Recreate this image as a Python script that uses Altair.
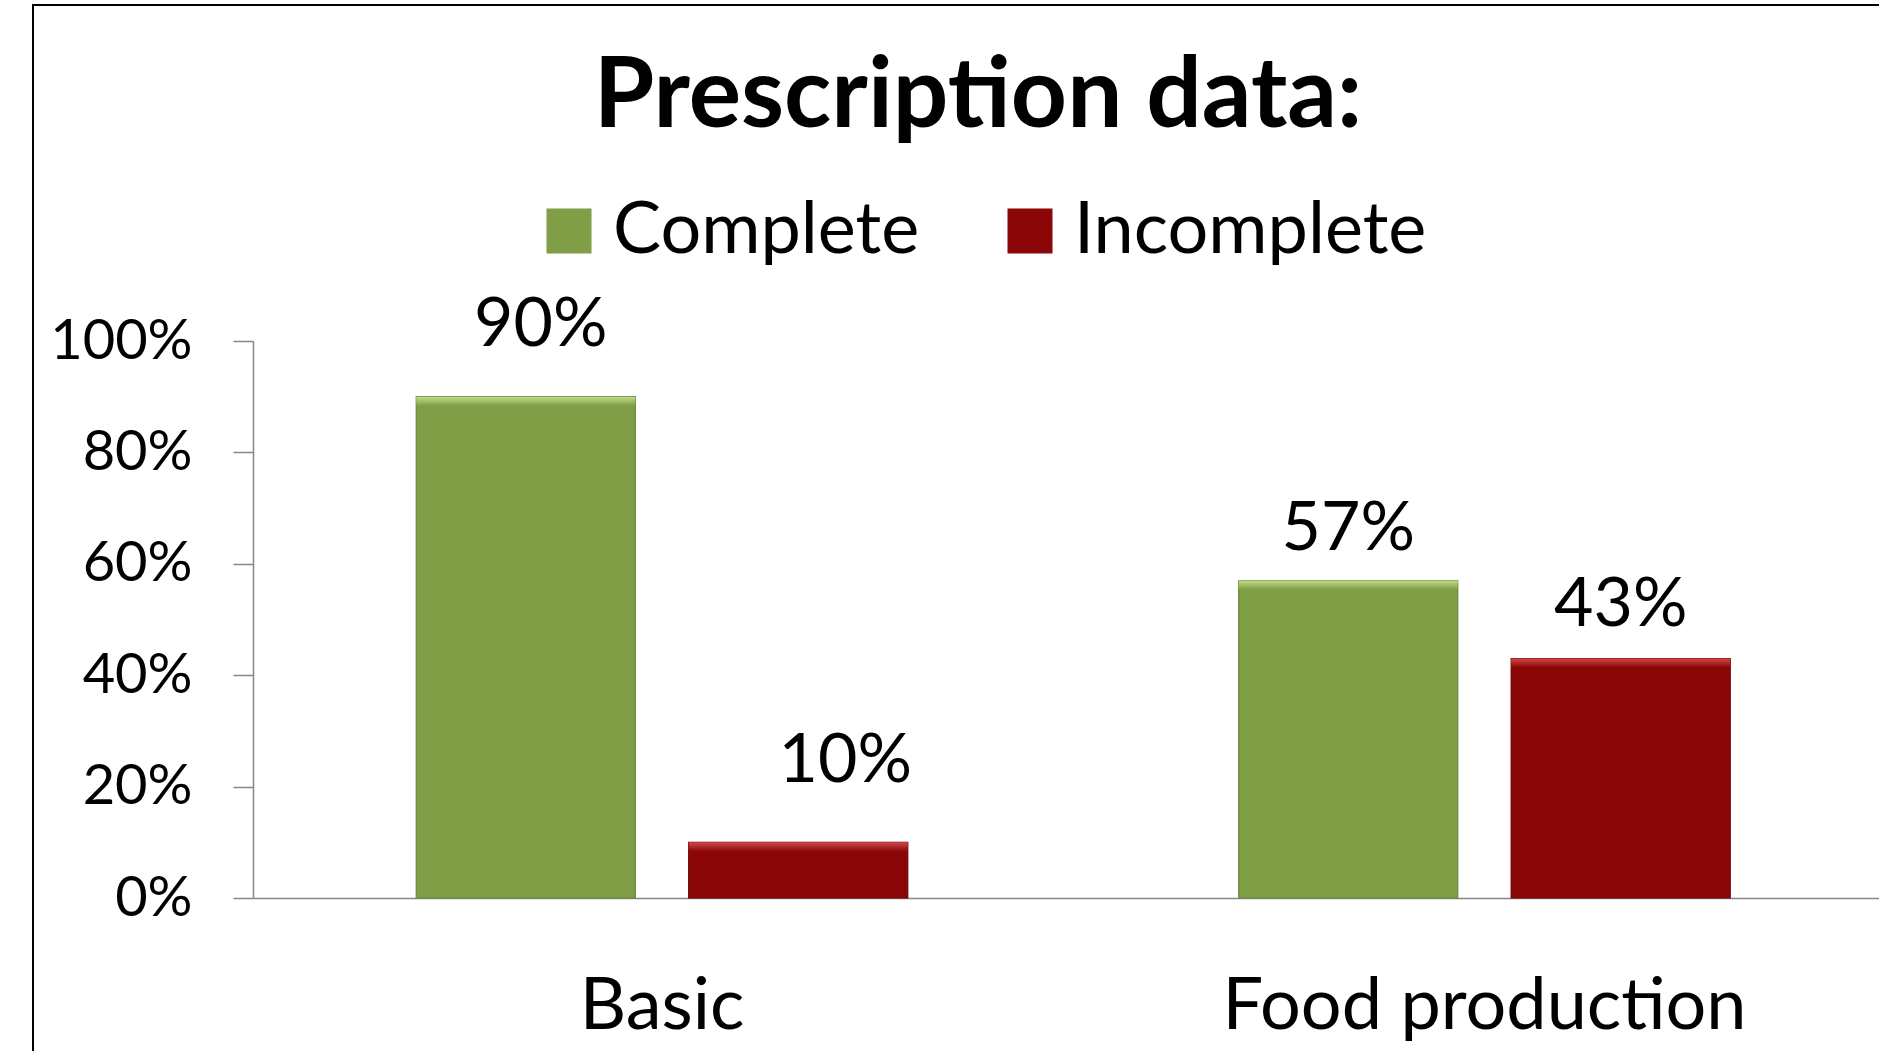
import altair as alt
import pandas as pd

# ---- data -------------------------------------------------------------
categories = ["Basic", "Food production"]
statuses = ["Complete", "Incomplete"]
complete_pct = [90, 57]
incomplete_pct = [10, 43]
y_tick_values = [0, 0.2, 0.4, 0.6, 0.8, 1.0]
chart_title = "Prescription data:"

rows = []
for cat, c_val, i_val in zip(categories, complete_pct, incomplete_pct):
    rows.append({"category": cat, "status": statuses[0], "share": c_val / 100, "label": f"{c_val}%"})
    rows.append({"category": cat, "status": statuses[1], "share": i_val / 100, "label": f"{i_val}%"})
df = pd.DataFrame(rows)

# ---- style ------------------------------------------------------------
FONT = "Lato"
GREEN, RED = "#7f9e45", "#8b0607"
GREEN_EDGE, RED_EDGE = "#6a8738", "#6e0204"
AXIS_GREY = "#868686"

# hand-placed nudges for the value labels (dx, dy in pixels)
label_nudge = {
    ("Basic", "Complete"): (15, -51),
    ("Basic", "Incomplete"): (47, -60),
    ("Food production", "Complete"): (0, -31),
    ("Food production", "Incomplete"): (0, -32),
}

x_enc = alt.X(
    "category:N",
    sort=categories,
    scale=alt.Scale(paddingInner=0.0406, paddingOuter=0.0088, align=1),
    axis=alt.Axis(
        title=None, ticks=False, labelAngle=0, labelFont=FONT, labelFontSize=72,
        labelColor="black", labelPadding=73, labelLimit=2000,
        domainColor=AXIS_GREY, domainWidth=1.5,
    ),
)
xo_enc = alt.XOffset(
    "status:N", sort=statuses, scale=alt.Scale(paddingInner=0.196, paddingOuter=0.546)
)
y_enc = alt.Y(
    "share:Q",
    scale=alt.Scale(domain=[0, 1]),
    axis=alt.Axis(
        values=y_tick_values, format=".0%", title=None, grid=False,
        tickSize=20, tickColor=AXIS_GREY, tickWidth=1.5, domainColor=AXIS_GREY,
        domainWidth=1.5, labelFont=FONT, labelFontSize=56, labelColor="black",
        labelPadding=41,
    ),
)

base = alt.Chart(df)

bars = base.mark_bar(strokeWidth=1.2).encode(
    x=x_enc,
    xOffset=xo_enc,
    y=y_enc,
    color=alt.Color(
        "status:N",
        sort=statuses,
        scale=alt.Scale(domain=statuses, range=[GREEN, RED]),
        legend=alt.Legend(
            orient="none", legendX=280, legendY=-146, direction="horizontal",
            title=None, symbolType="square", symbolSize=2025, symbolStrokeWidth=0,
            symbolOpacity=1, labelFont=FONT, labelFontSize=72, labelColor="black",
            labelOffset=8, labelLimit=2000, columnPadding=74, padding=0,
        ),
    ),
    stroke=alt.Stroke(
        "status:N", scale=alt.Scale(domain=statuses, range=[GREEN_EDGE, RED_EDGE]), legend=None
    ),
)

def top_bevel(status, light, dark):
    grad = alt.Gradient(
        gradient="linear",
        stops=[alt.GradientStop(color=light, offset=0), alt.GradientStop(color=dark, offset=1)],
        x1=0, x2=0, y1=0, y2=1,
    )
    return (
        base.transform_filter(alt.datum.status == status)
        .mark_bar(fill=grad, y2Offset=9)
        .encode(x=x_enc, xOffset=xo_enc, y=y_enc, y2=alt.Y2("share:Q"))
    )

bevels = top_bevel("Complete", "#c3dc8c", GREEN) + top_bevel("Incomplete", "#d04a4a", RED)

label_layers = []
for (cat, status), (ddx, ddy) in label_nudge.items():
    label_layers.append(
        base.transform_filter((alt.datum.category == cat) & (alt.datum.status == status))
        .mark_text(font=FONT, fontSize=68, color="black", align="center",
                   baseline="alphabetic", dx=ddx, dy=ddy)
        .encode(x=x_enc, xOffset=xo_enc, y=y_enc, text="label:N")
    )

title_mark = alt.Chart(pd.DataFrame({"title": [chart_title]})).mark_text(
    font=FONT, fontSize=98, fontWeight="bold", color="black",
    align="center", baseline="alphabetic",
).encode(x=alt.value(725), y=alt.value(-214), text="title:N")

frame = alt.Chart(pd.DataFrame({"f": [0]})).mark_rect(
    fillOpacity=0, stroke="black", strokeWidth=2
).encode(x=alt.value(-220), x2=alt.value(1700), y=alt.value(-336), y2=alt.value(800))

chart = (
    alt.layer(frame, bars, bevels, *label_layers, title_mark)
    .properties(
        width=1626,
        height=557,
        autosize=alt.AutoSizeParams(type="none"),
        padding={"left": 253, "top": 341, "right": 0, "bottom": 153},
        background="white",
    )
    .configure_view(stroke=None)
)

chart.save("out.html", embed_options={"renderer": "svg", "actions": False})
